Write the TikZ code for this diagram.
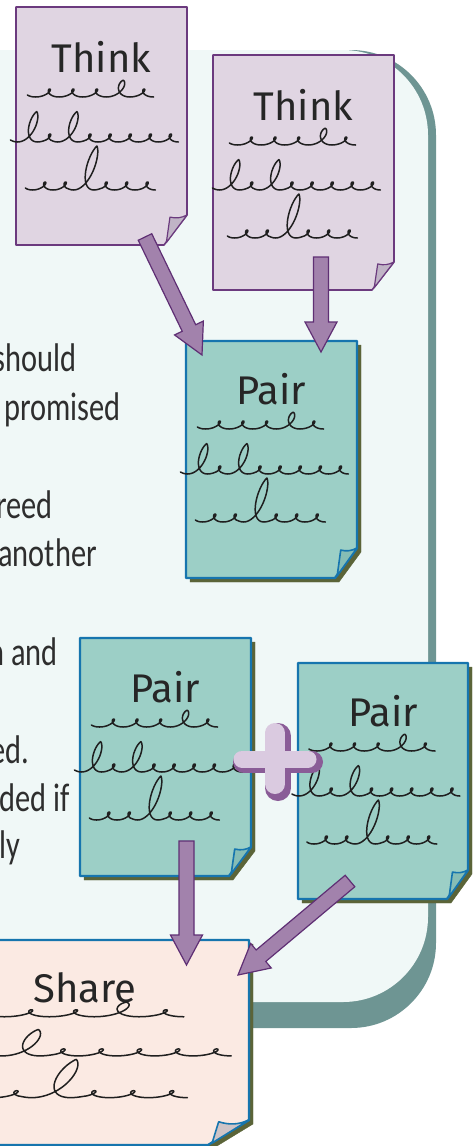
\documentclass[tikz,border=0pt]{standalone}
\usepackage{fontspec}
\setmainfont{Carlito}
\newfontfamily\notefont{Fira Sans}
\newfontfamily\bodyfont[FakeStretch=0.76]{Carlito}
\usetikzlibrary{calc}
\definecolor{panelbg}{HTML}{F0F8F7}
\definecolor{panelshade}{HTML}{6E9593}
\definecolor{thinkfill}{HTML}{E0D5E2}
\definecolor{thinkline}{HTML}{6B3A7E}
\definecolor{thinkflap}{HTML}{C0B4C6}
\definecolor{pairfill}{HTML}{9CCFC6}
\definecolor{pairline}{HTML}{1675AE}
\definecolor{pairflap}{HTML}{86BDB5}
\definecolor{sharefill}{HTML}{FBEAE3}
\definecolor{shareflap}{HTML}{CFC4C6}
\definecolor{papershade}{HTML}{5B6438}
\definecolor{arrowfill}{HTML}{A282AC}
\definecolor{arrowline}{HTML}{5F2F74}
\definecolor{pluslight}{HTML}{DACAE0}
\definecolor{plusdark}{HTML}{8A5C97}
\definecolor{bodytext}{HTML}{2E2E2E}
% node, fold dx, fold dy, paper style, fold style
\newcommand{\paper}[5]{%
  \draw[#4] (#1.north west) -- (#1.north east) -- ([yshift=#3]#1.south east)
    -- ([xshift=-#2]#1.south east) -- (#1.south west) -- cycle;
  \draw[#5] ([yshift=#3]#1.south east) to[bend left=20] ($(#1.south east)+(-0.74*#2,0.93*#3)$)
    -- ($(#1.south east)+(-0.9*#2,0.08*#3)$) -- cycle;}
\newcommand{\scribbles}[1]{%
  \begin{scope}[#1, declare function={
      bump(\t,\c)=max(0,1-abs(\t-\c)/240);
      ya(\t)=4*(1-cos(\t))*(1+1.1*bump(\t,1260));
      yb(\t)=4*(1-cos(\t))*(1+2.8*bump(\t,180)+2.8*bump(\t,900));
      yc(\t)=4*(1-cos(\t))*(1+4.5*bump(\t,900));}]
    \draw[scrib] plot[smooth, domain=-60:1800, samples=187, variable=\t]
      ({-66+0.0656*\t+(5.5+3*bump(\t,1260))*sin(\t)+0.3*ya(\t)}, {-25+ya(\t)});
    \draw[scrib] plot[smooth, domain=-60:2880, samples=295, variable=\t]
      ({-84+0.0559*\t+(5+4*bump(\t,180)+4*bump(\t,900))*sin(\t)+0.3*yb(\t)}, {-70+yb(\t)});
    \draw[scrib] plot[smooth, domain=-60:2160, samples=223, variable=\t]
      ({-69+0.0569*\t+(5+5*bump(\t,900))*sin(\t)+0.3*yc(\t)}, {-118+yc(\t)});
  \end{scope}}
\newcommand{\fatarrow}[2]{%
  \coordinate (hb) at ($(#2)!30pt!(#1)$);
  \draw[bigarrow] ($(#1)!7.5pt!90:(#2)$) -- ($(hb)!7.5pt!90:(#2)$) -- ($(hb)!16pt!90:(#2)$) -- (#2)
    -- ($(hb)!16pt!-90:(#2)$) -- ($(hb)!7.5pt!-90:(#2)$) -- ($(#1)!7.5pt!-90:(#2)$) -- cycle;}
\begin{document}
\begin{tikzpicture}[x=1pt, y=1pt, line join=round, line cap=round]
\tikzset{
  notebox/.style={inner sep=0, outer sep=0},
  title/.style={anchor=base, inner sep=0, font=\notefont\fontsize{40}{40}\selectfont, text=black!85},
  bodyline/.style={anchor=base east, inner sep=0, font=\bodyfont\fontsize{40}{40}\selectfont, text=bodytext},
  thinkpaper/.style={draw=thinkline, fill=thinkfill, line width=1.6},
  thinkfold/.style={draw=thinkline, fill=thinkflap, line width=1.2},
  pairpaper/.style={draw=pairline, fill=pairfill, line width=2.4,
    preaction={draw=papershade, fill=papershade, transform canvas={xshift=4pt, yshift=-4pt}}},
  pairfold/.style={draw=pairline, fill=pairflap, line width=1.6},
  sharepaper/.style={pairpaper, fill=sharefill},
  sharefold/.style={pairfold, fill=shareflap},
  scrib/.style={line width=1.5, black!88},
  bigarrow/.style={draw=arrowline, fill=arrowfill, line width=1.2, line join=miter},
}
\useasboundingbox (0,0) rectangle (475,-1146);
\clip (0,0) rectangle (475,-1146);
\fill[panelshade, rounded corners=85] (-100,-50) rectangle (436,-1028);
\fill[panelbg, rounded corners=85] (-100,-50) rectangle (428,-1002);

\foreach \txt/\xe/\yb in {should/77/371, promised/121/420, reed/53/518, another/97/566,
    n and/58/665, ed./29/763, ded if/70/811, ly/20/858}
  \node[bodyline] (l\yb) at (\xe,-\yb) {\txt};

\node[notebox, minimum width=171, minimum height=238] (think1) at (101.5,-126) {};
\node[notebox, minimum width=181, minimum height=235] (think2) at (303.5,-172.5) {};
\node[notebox, minimum width=171, minimum height=237] (pair1) at (271.5,-459.5) {};
\node[notebox, minimum width=171, minimum height=238] (pair2) at (165.5,-757) {};
\node[notebox, minimum width=170, minimum height=236] (pair3) at (383,-781) {};
\node[notebox, minimum width=328, minimum height=205] (share) at (85,-1042.5) {};

\paper{think1}{23}{30}{thinkpaper}{thinkfold}
\paper{think2}{22}{28}{thinkpaper}{thinkfold}
\paper{pair1}{22}{30}{pairpaper}{pairfold}
\paper{pair2}{22}{29}{pairpaper}{pairfold}
\paper{pair3}{21}{29}{pairpaper}{pairfold}
\paper{share}{41}{25}{sharepaper}{sharefold}

\node[title] (think1-t) at ([yshift=-65]think1.north) {Think};
\node[title] (think2-t) at ([yshift=-65]think2.north) {Think};
\node[title] (pair1-t) at ([yshift=-63]pair1.north) {Pair};
\node[title] (pair2-t) at ([yshift=-64]pair2.north) {Pair};
\node[title] (pair3-t) at ([yshift=-63]pair3.north) {Pair};
\node[title] (share-t) at ([yshift=-62]share.north) {Share};

\scribbles{shift={(think1-t.base)}}
\scribbles{shift={(think2-t.base)}}
\scribbles{shift={(pair1-t.base)}}
\scribbles{shift={(pair2-t.base)}}
\scribbles{shift={(pair3-t.base)}}
\scribbles{shift={($(share-t.base)+(0,7)$)}, xscale=1.9, yscale=0.87}

\coordinate (plus) at (276,-760);
\draw[plusdark, line width=22] ($(plus)+(-32,-2)$) -- ($(plus)+(36,-2)$);
\draw[plusdark, line width=26] ($(plus)+(2,24)$) -- ($(plus)+(2,-28)$);
\draw[pluslight, line width=17] ($(plus)+(-34,1)$) -- ($(plus)+(32,1)$);
\draw[pluslight, line width=20] ($(plus)+(-1,27)$) -- ($(plus)+(-1,-24)$);

\coordinate (t1out) at ($(think1.south east)+(-42,8)$);
\coordinate (p1inL) at ($(pair1.north west)+(16,-14)$);
\coordinate (t2out) at ($(think2.south)+(17.5,33)$);
\coordinate (p1inR) at ($(pair1.north)+(49.5,-11)$);
\coordinate (p2out) at ($(pair2.south)+(21,35)$);
\coordinate (shinL) at ($(share.north)+(101.5,-25)$);
\coordinate (p3out) at ($(pair3.south)+(-33,18)$);
\coordinate (shinR) at ($(share.north)+(153,-35)$);
\fatarrow{t1out}{p1inL}
\fatarrow{t2out}{p1inR}
\fatarrow{p2out}{shinL}
\fatarrow{p3out}{shinR}
\end{tikzpicture}
\end{document}
